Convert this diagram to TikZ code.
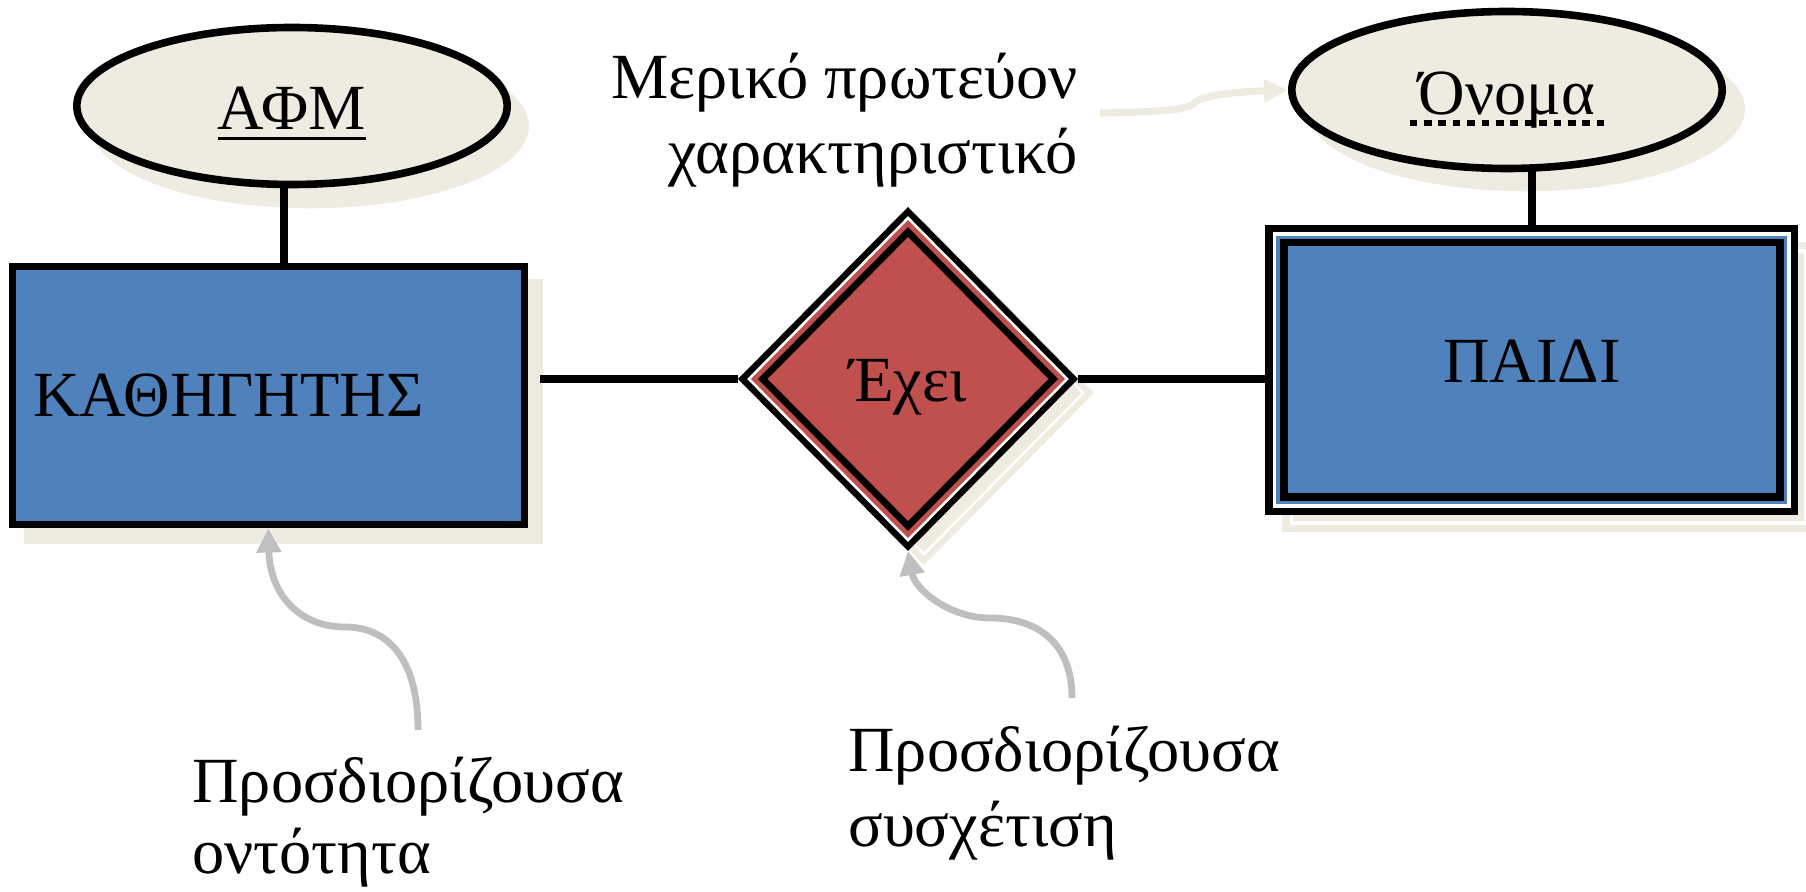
\documentclass[tikz,border=0pt]{standalone}
\usepackage{fontspec}
\setmainfont{Liberation Serif}
\usetikzlibrary{shapes.geometric,arrows.meta,calc}
\pgfdeclarelayer{bg}
\pgfdeclarelayer{conn}
\pgfsetlayers{bg,conn,main}
\definecolor{erblue}{HTML}{4F81BD}
\definecolor{erred}{HTML}{C0504D}
\definecolor{erbeige}{HTML}{EEECE1}
\definecolor{ergray}{HTML}{BFBFBF}
\newcommand\solidul[1]{\setbox0\hbox{#1}\rlap{\rule[-5.2pt]{\wd0}{1.5pt}}\box0}
\newcommand\dotul[1]{\setbox0\hbox{#1}\rlap{\hskip-6.5pt\raisebox{-5.3pt}{\hbox to \dimexpr\wd0+13pt\relax{\xleaders\hbox to 6.9pt{\hss\rule{3.8pt}{2.7pt}\hss}\hfill}}}\box0}
\begin{document}
\begin{tikzpicture}[x=0.5pt,y=-0.5pt,
  lbl/.style={font=\fontsize{32.2}{37.5}\selectfont, inner sep=0pt},
  connline/.style={draw=black, line width=3.7pt},
  attr/.style={ellipse, draw=black, line width=3.8pt, fill=erbeige,
    minimum width=215.2pt, minimum height=78.5pt, inner sep=0pt, lbl},
  ent/.style={rectangle, draw=black, line width=3.8pt, fill=erblue, inner sep=0pt, lbl},
  layerbox/.style={rectangle, inner sep=0pt, outer sep=0pt},
  layerdia/.style={diamond, inner sep=0pt, outer sep=0pt},
  garrow/.style={draw=ergray, line width=3.4pt, -{Triangle[length=12pt,width=12pt]}},
  barrow/.style={draw=erbeige, line width=3.6pt, -{Triangle[length=12pt,width=11pt]}}
]
\useasboundingbox (0,0) rectangle (1806,892);

% attributes
\node[attr, text height=24pt, text depth=0pt] (afm) at (292,106) {\solidul{ΑΦΜ}};
\node[attr, text height=25pt, text depth=0pt] (onoma) at (1507,90) {\dotul{Όνομα}};

% strong entity
\node[ent, text width=235pt, align=left, inner xsep=10.5pt, minimum height=129pt,
  text height=20.5pt, text depth=0pt] (kath) at (268.3,395.7) {ΚΑΘΗΓΗΤΗΣ};

% weak entity (double border)
\node[layerbox, fill=black, minimum width=266.5pt, minimum height=144.9pt] (paidiout) at (1531.9,370) {};
\node[layerbox, fill=white, minimum width=259.2pt, minimum height=138.2pt] (paidiwhite) at (paidiout.center) {};
\node[layerbox, fill=erblue, minimum width=255.5pt, minimum height=134.3pt] (paidiband) at (paidiout.center) {};
\node[ent, minimum width=248.1pt, minimum height=127.3pt, text height=13pt, text depth=0pt] (paidi) at (paidiout.center) {ΠΑΙΔΙ};

% identifying relationship (double border)
\node[layerdia, fill=black, minimum width=170pt, minimum height=172pt] (exeiout) at (908,379) {};
\node[layerdia, fill=white, minimum width=160.9pt, minimum height=162.8pt] (exeiwhite) at (exeiout.center) {};
\node[layerdia, fill=erred, minimum width=157.1pt, minimum height=159pt] (exeiband) at (exeiout.center) {};
\node[diamond, draw=black, line width=3.4pt, fill=erred, minimum width=146.7pt, minimum height=148.4pt,
  inner sep=0pt, lbl, text height=23pt, text depth=0pt] (exei) at (exeiout.center) {Έχει};

% labels (anchor = baseline of the last line)
\node[lbl, align=right, anchor=base east] (merlbl) at (1078,174) {Μερικό πρωτεύον\\χαρακτηριστικό};
\node[lbl, font=\fontsize{32.2}{35.5}\selectfont, align=left, anchor=base west] (entlbl) at (192,873) {Προσδιορίζουσα\\οντότητα};
\node[lbl, align=left, anchor=base west] (rellbl) at (848,847) {Προσδιορίζουσα\\συσχέτιση};

% shadows
\begin{pgfonlayer}{bg}
\fill[erbeige] ($(afm.center)+(18,20)$) ellipse [x radius=109.5pt, y radius=41.15pt];
\fill[erbeige] ($(onoma.center)+(19,19)$) ellipse [x radius=109.5pt, y radius=41.15pt];
\fill[erbeige] ($(kath.north west)+(15,16)$) rectangle ($(kath.south east)+(15,16)$);
\fill[erbeige] ($(paidiout.north west)+(17,17)$) rectangle ($(paidiout.south east)+(17,17)$);
\fill[white] ($(paidiwhite.north west)+(17,17)$) rectangle ($(paidiwhite.south east)+(17,17)$);
\fill[erbeige] ($(paidiband.north west)+(17,17)$) rectangle ($(paidiband.south east)+(17,17)$);
\node[layerdia, fill=erbeige, minimum width=170pt, minimum height=172pt] (exeish) at ($(exeiout.center)+(16,14)$) {};
\node[layerdia, fill=white, minimum width=160.9pt, minimum height=162.8pt] (exeishw) at (exeish.center) {};
\node[layerdia, fill=erbeige, minimum width=157.1pt, minimum height=159pt] (exeishb) at (exeish.center) {};
\end{pgfonlayer}

% connectors
\begin{pgfonlayer}{conn}
\draw[connline] ([xshift=-4pt]afm.center) -- ([xshift=-4pt]afm.center |- kath.north);
\draw[connline] (onoma.center -| paidiout.north) -- (paidiout.north);
\coordinate (kr) at (kath.east |- exeiout.west);
\draw[connline] ([xshift=6pt]kr) -- (exeiout.west);
\draw[connline] (exeiout.east) -- (exeiout.east -| paidiout.west);
\end{pgfonlayer}

% annotation arrows
\coordinate (s1) at (418,730);
\coordinate (s2) at (1072,698);
\coordinate (s3) at (1100,113);
\draw[garrow] (s1) .. controls (418,655) and (385,627) .. (345,627) .. controls (300,627) and (270,595) .. (kath.south);
\draw[garrow] (s2) .. controls (1072,645) and (1040,618) .. (990,618) .. controls (950,618) and (915,590) .. (exeiout.south);
\draw[barrow] (s3) .. controls (1160,112) and (1185,110) .. (1193,104) .. controls (1200,96) and (1230,92) .. (onoma.west);
\end{tikzpicture}
\end{document}
